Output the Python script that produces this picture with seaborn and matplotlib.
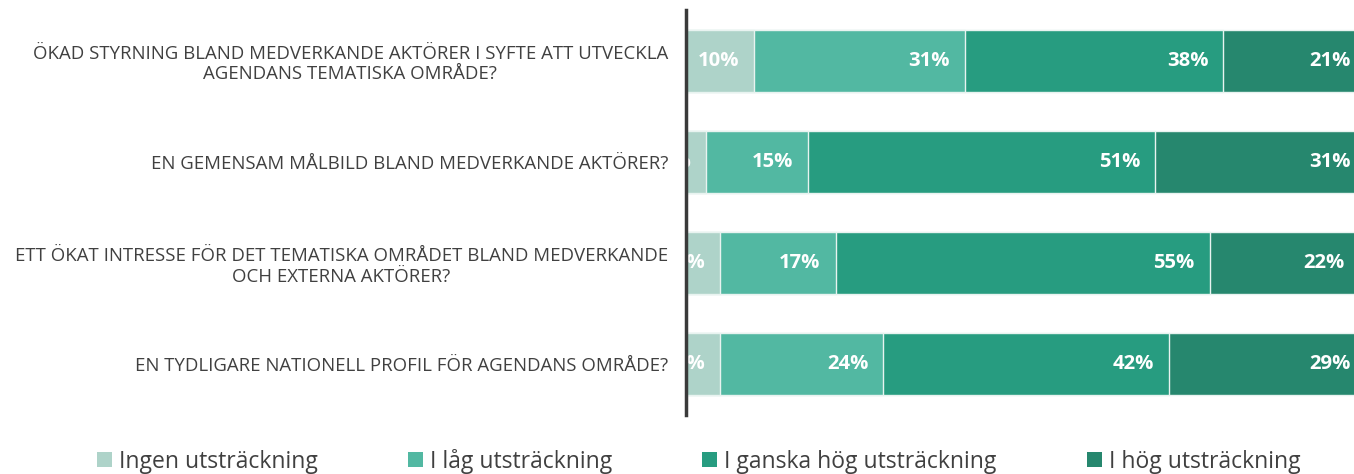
import matplotlib
matplotlib.use("Agg")
import matplotlib.pyplot as plt
import seaborn as sns
import numpy as np
import pandas as pd
from matplotlib.patches import Patch

categories = [
    "ÖKAD STYRNING BLAND MEDVERKANDE AKTÖRER I SYFTE ATT UTVECKLA\nAGENDANS TEMATISKA OMRÅDE?",
    "EN GEMENSAM MÅLBILD BLAND MEDVERKANDE AKTÖRER?",
    "ETT ÖKAT INTRESSE FÖR DET TEMATISKA OMRÅDET BLAND MEDVERKANDE\nOCH EXTERNA AKTÖRER?",
    "EN TYDLIGARE NATIONELL PROFIL FÖR AGENDANS OMRÅDE?",
]
series_names = ["Ingen utsträckning", "I låg utsträckning", "I ganska hög utsträckning", "I hög utsträckning"]
ingen = [10, 3, 5, 5]
lag = [31, 15, 17, 24]
ganska = [38, 51, 55, 42]
hog = [21, 31, 22, 29]
colors = ["#aed3c9", "#52b8a2", "#279c80", "#26876e"]

sns.set_theme(style="white")
plt.rcParams["font.family"] = ["Open Sans", "DejaVu Sans"]

vals = np.array([ingen, lag, ganska, hog], dtype=float)
cum = np.cumsum(vals, axis=0)

fig = plt.figure(figsize=(13.54, 4.74), dpi=100)
ax = fig.add_axes([686 / 1354, 1 - 415 / 474, 1 - 686 / 1354, 405 / 474])

# draw cumulative bars from largest to smallest so they stack visually
for i in range(3, -1, -1):
    df = pd.DataFrame({"cat": categories, "val": cum[i]})
    sns.barplot(data=df, x="val", y="cat", orient="h", color=colors[i],
                width=0.61, edgecolor="#e8f3f0", linewidth=1.0, ax=ax,
                saturation=1)

ax.set_xlim(0, 100 * 668 / 680)
ax.set_ylim(3.5, -0.5)

# labels: right aligned inside segment end
for i in range(4):
    for j in range(len(categories)):
        ax.annotate(f"{int(vals[i, j])}%", xy=(cum[i, j], j), xytext=(-15, 0),
                    textcoords="offset pixels",
                    ha="right", va="center", color="white", fontsize=14.6,
                    fontweight="bold", annotation_clip=False, clip_on=True)

ax.set_xlabel("")
ax.set_ylabel("")
ax.set_xticks([])
ax.tick_params(axis="y", length=0, pad=13)
for lbl in ax.get_yticklabels():
    lbl.set_multialignment("center")
    lbl.set_color("#404040")
    lbl.set_fontsize(13.4)
for s in ["top", "right", "bottom"]:
    ax.spines[s].set_visible(False)
ax.spines["left"].set_color("#3a3a3a")
ax.spines["left"].set_linewidth(2.5)
ax.spines["left"].set_zorder(5)

handles = [Patch(facecolor=c, edgecolor="none") for c in colors]
leg = fig.legend(handles, series_names, loc="center", bbox_to_anchor=(0.516, 13 / 474),
                 ncol=4, frameon=False, fontsize=16.5, columnspacing=3.95,
                 handlelength=0.65, handleheight=0.65, handletextpad=0.3)
for t in leg.get_texts():
    t.set_color("#404040")

fig.savefig("out.png", dpi=100)
